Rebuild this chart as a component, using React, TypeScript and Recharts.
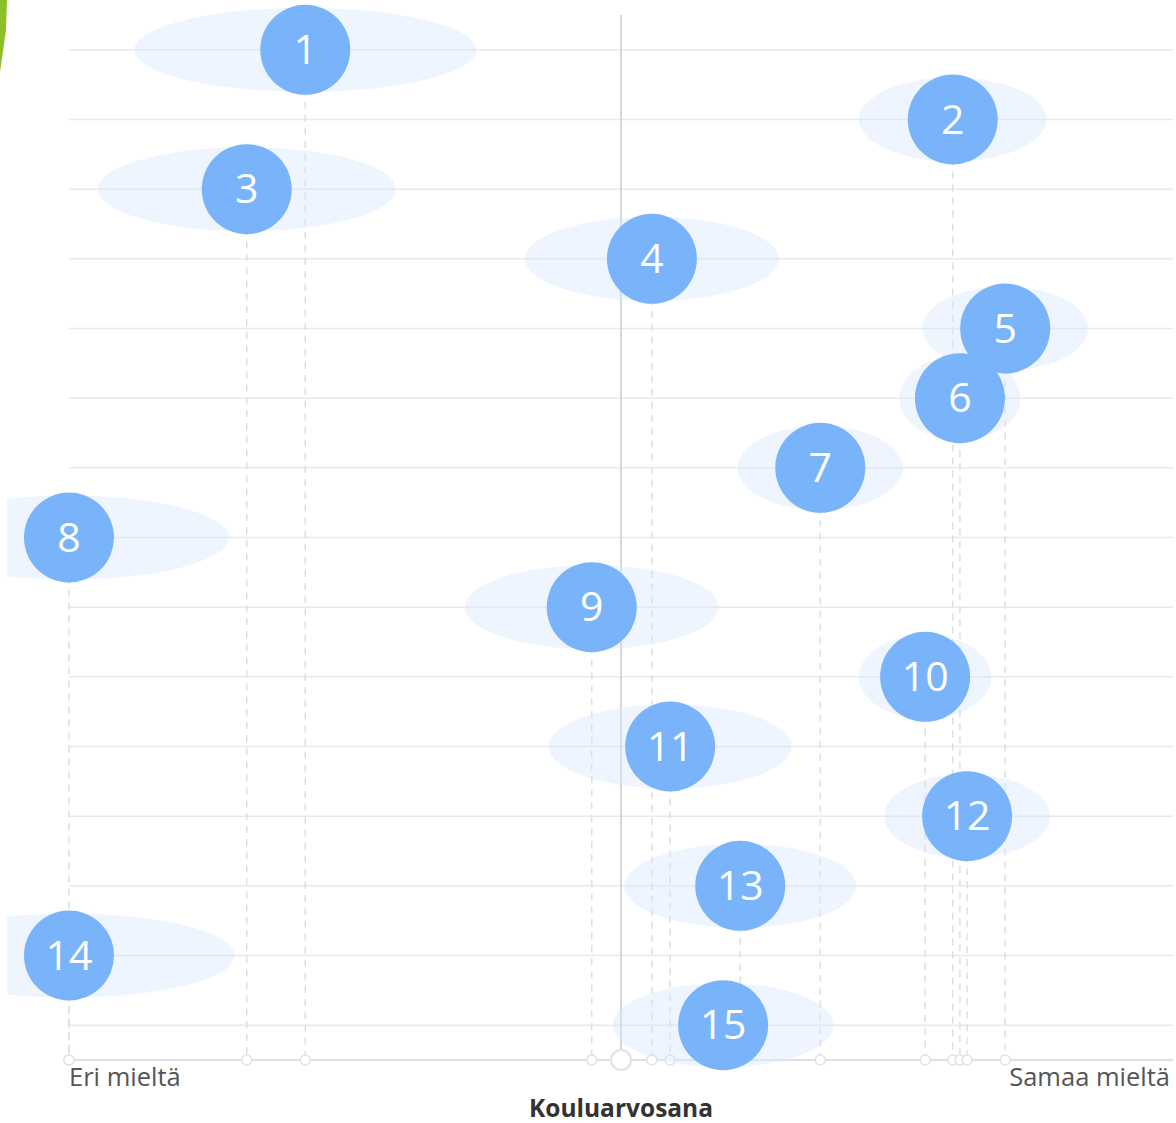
import React from "react";
import {
  ScatterChart,
  Scatter,
  XAxis,
  YAxis,
  ReferenceLine,
} from "recharts";

// statement number, position on the disagree(-1) .. agree(+1) scale, spread of answers
const STATEMENTS = ["1", "2", "3", "4", "5", "6", "7", "8", "9", "10", "11", "12", "13", "14", "15"];
const POSITIONS = [-0.572, 0.601, -0.678, 0.056, 0.696, 0.614, 0.361, -1.0, -0.053, 0.551, 0.089, 0.627, 0.216, -1.0, 0.185];
const SPREADS = [0.31, 0.17, 0.27, 0.23, 0.15, 0.11, 0.15, 0.29, 0.23, 0.12, 0.22, 0.15, 0.21, 0.3, 0.2];
const AXIS_END_LABELS = ["Eri mieltä", "Samaa mieltä"];
const AXIS_TITLE = "Kouluarvosana";

const WIDTH = 1176;
const HEIGHT = 1123;
const MARGIN = { top: 15, right: 3, bottom: 0, left: 69 };
const X_DOMAIN: [number, number] = [-1, 1];
const Y_DOMAIN: [number, number] = [0.5, STATEMENTS.length + 0.5];
const PX_PER_UNIT = (WIDTH - MARGIN.left - MARGIN.right) / (X_DOMAIN[1] - X_DOMAIN[0]);

const FONT = '"Open Sans", "Noto Sans", sans-serif';
const BUBBLE = "#79b4fb";
const HALO = "rgba(214, 231, 252, 0.4)";
const GRID = "#e6eaef";

const points = STATEMENTS.map((label, i) => ({
  label,
  x: POSITIONS[i],
  y: i + 1,
  spread: SPREADS[i],
}));
const basePoints = points.map((p) => ({ x: p.x, y: Y_DOMAIN[1] }));
const zeroPoint = [{ x: 0, y: Y_DOMAIN[1] }];

function HaloShape(props: any) {
  const { cx, cy, payload } = props;
  return <ellipse cx={cx} cy={cy} rx={payload.spread * PX_PER_UNIT} ry={42} fill={HALO} />;
}

function BubbleShape(props: any) {
  const { cx, cy, payload } = props;
  return (
    <g>
      <circle cx={cx} cy={cy} r={45} fill={BUBBLE} />
      <text
        x={cx}
        y={cy}
        dy={14}
        textAnchor="middle"
        fill="#fff"
        fontSize={41}
        fontFamily={FONT}
      >
        {payload.label}
      </text>
    </g>
  );
}

function BaseDot(props: any) {
  return <circle cx={props.cx} cy={props.cy} r={5} fill="#fff" stroke="#dfe3e8" strokeWidth={1.5} />;
}

function ZeroDot(props: any) {
  return <circle cx={props.cx} cy={props.cy} r={10} fill="#fff" stroke="#dfe3e8" strokeWidth={2} />;
}

function EndTick(props: any) {
  const { x, y, payload } = props;
  const isLeft = payload.value < 0;
  return (
    <text
      x={isLeft ? x : x - 2}
      y={y}
      dy={18}
      textAnchor={isLeft ? "start" : "end"}
      fill="#555"
      fontSize={25.5}
      fontFamily={FONT}
    >
      {isLeft ? AXIS_END_LABELS[0] : AXIS_END_LABELS[1]}
    </text>
  );
}

function AxisTitle(props: any) {
  const { viewBox } = props;
  return (
    <text
      x={viewBox.x + viewBox.width / 2}
      y={1117}
      textAnchor="middle"
      fill="#333"
      fontSize={24.5}
      fontWeight={700}
      fontFamily={FONT}
    >
      {AXIS_TITLE}
    </text>
  );
}

export default function App() {
  return (
    <div
      style={{
        position: "absolute",
        left: 0,
        top: 0,
        width: WIDTH,
        height: HEIGHT,
        background: "#fff",
        fontFamily: FONT,
      }}
    >
      <svg width={20} height={80} style={{ position: "absolute", left: 0, top: 0 }}>
        <polygon points="0,0 7,0 6,30 0,72" fill="#8cc026" />
      </svg>
      <div style={{ clipPath: "inset(0 0 0 7px)" }}>
        <ScatterChart width={WIDTH} height={HEIGHT} margin={MARGIN}>
          <XAxis
            type="number"
            dataKey="x"
            domain={X_DOMAIN}
            ticks={X_DOMAIN}
            height={63}
            tickLine={false}
            axisLine={{ stroke: "#dde2e7", strokeWidth: 2 }}
            tick={<EndTick />}
            label={<AxisTitle />}
          />
          <YAxis type="number" dataKey="y" domain={Y_DOMAIN} reversed hide />
          {points.map((p) => (
            <ReferenceLine key={`g${p.label}`} y={p.y} stroke={GRID} strokeWidth={1.5} />
          ))}
          <ReferenceLine x={0} stroke="#d3d8dd" strokeWidth={2} />
          {points.map((p) => (
            <ReferenceLine
              key={`d${p.label}`}
              segment={[
                { x: p.x, y: p.y },
                { x: p.x, y: Y_DOMAIN[1] },
              ]}
              stroke="#dcdfe3"
              strokeWidth={1.5}
              strokeDasharray="7 6"
            />
          ))}
          <Scatter data={basePoints} shape={<BaseDot />} isAnimationActive={false} />
          <Scatter data={zeroPoint} shape={<ZeroDot />} isAnimationActive={false} />
          <Scatter data={points} shape={<HaloShape />} isAnimationActive={false} />
          <Scatter data={points} shape={<BubbleShape />} isAnimationActive={false} />
        </ScatterChart>
      </div>
    </div>
  );
}
